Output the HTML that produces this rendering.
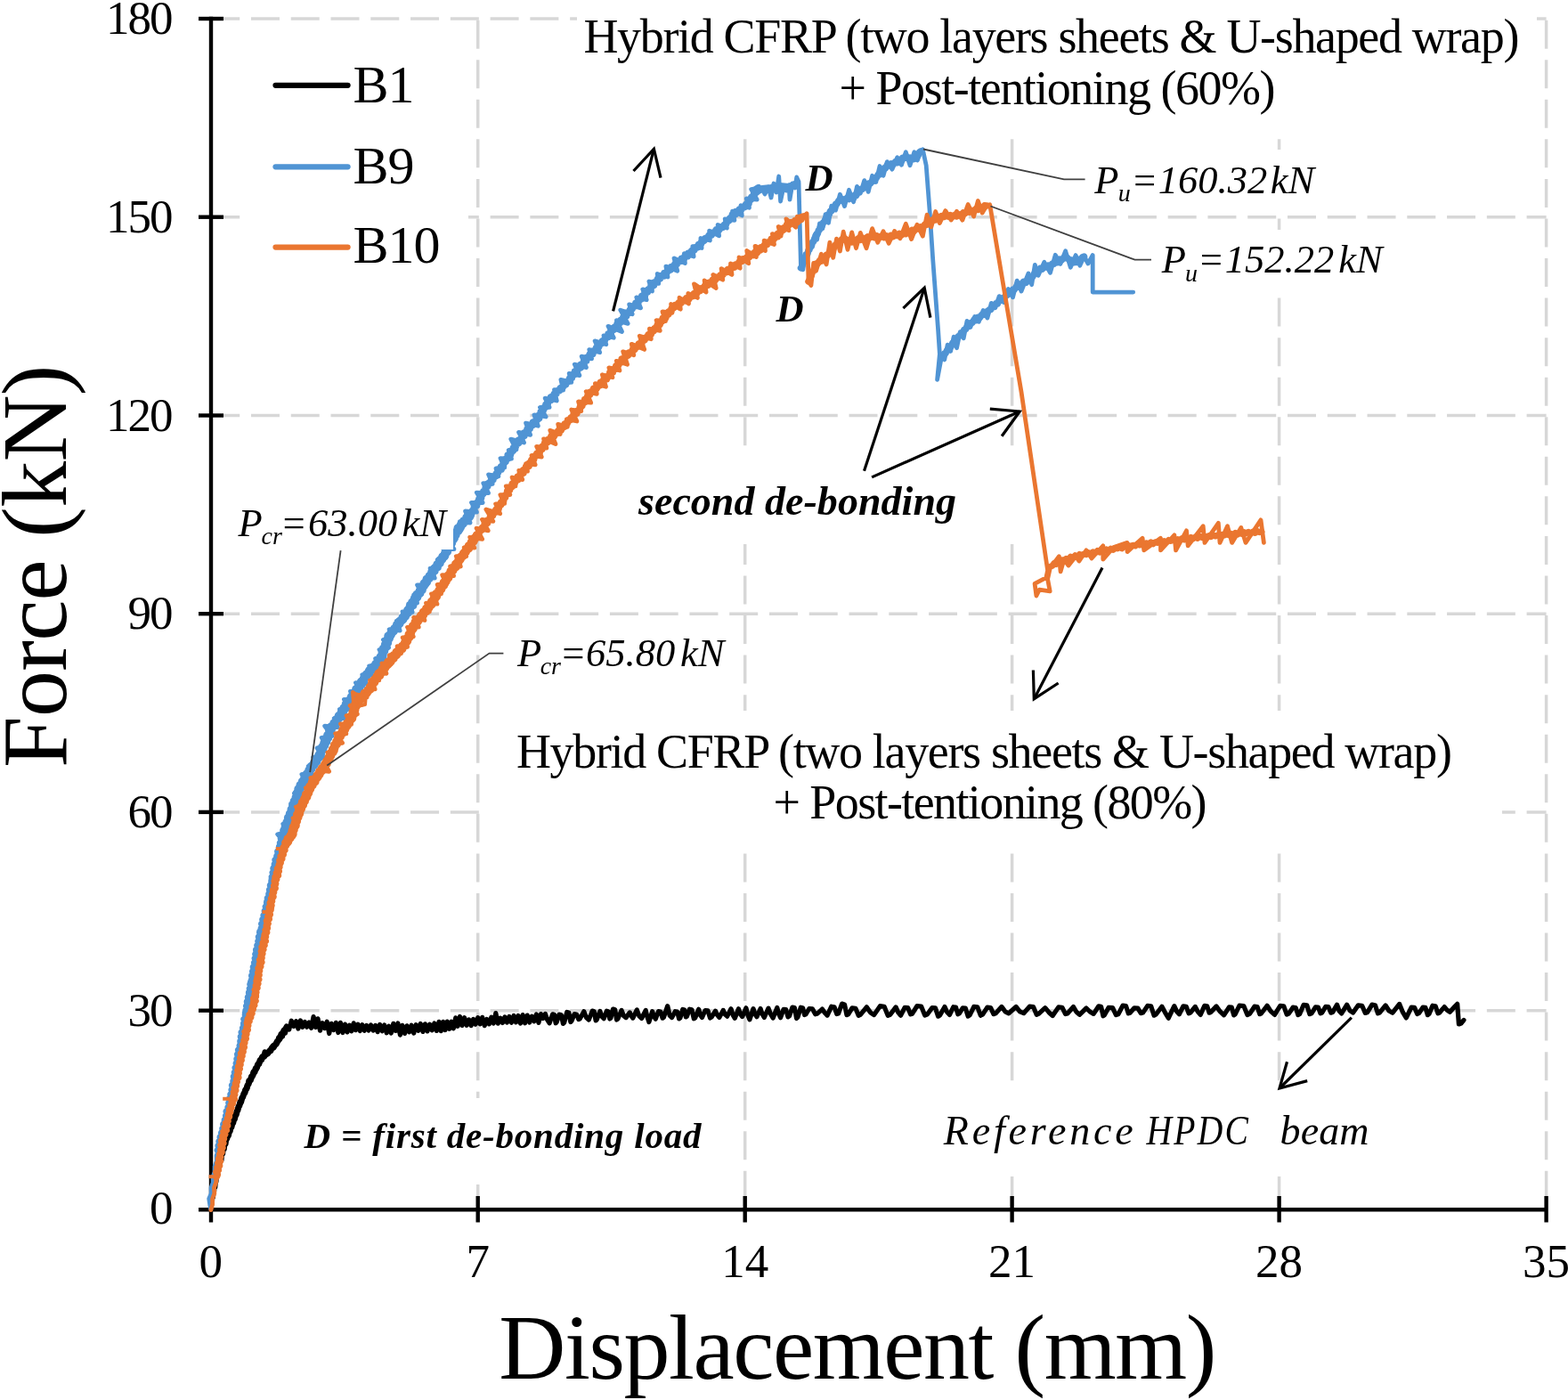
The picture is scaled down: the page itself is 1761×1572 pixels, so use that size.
<!DOCTYPE html>
<html><head><meta charset="utf-8"><title>Force vs Displacement</title>
<style>html,body{margin:0;padding:0;background:#fff;}svg{display:block;}</style>
</head><body>
<svg width="1761" height="1572" viewBox="0 0 1761 1572"><rect x="0" y="0" width="1761" height="1572" fill="#fff"/>
<line x1="237.2" y1="1134.7" x2="1736.6" y2="1134.7" stroke="#D7D7D7" stroke-width="3.5" stroke-dasharray="32 12.77"/>
<line x1="237.2" y1="911.9" x2="1736.6" y2="911.9" stroke="#D7D7D7" stroke-width="3.5" stroke-dasharray="32 12.77"/>
<line x1="237.2" y1="689.2" x2="1736.6" y2="689.2" stroke="#D7D7D7" stroke-width="3.5" stroke-dasharray="32 12.77"/>
<line x1="237.2" y1="466.5" x2="1736.6" y2="466.5" stroke="#D7D7D7" stroke-width="3.5" stroke-dasharray="32 12.77"/>
<line x1="237.2" y1="243.7" x2="1736.6" y2="243.7" stroke="#D7D7D7" stroke-width="3.5" stroke-dasharray="32 12.77"/>
<line x1="237.2" y1="21.0" x2="1736.6" y2="21.0" stroke="#D7D7D7" stroke-width="3.5" stroke-dasharray="32 12.77"/>
<line x1="536.7" y1="22.7" x2="536.7" y2="1357.4" stroke="#D7D7D7" stroke-width="3.5" stroke-dasharray="32 12.556"/>
<line x1="836.7" y1="22.7" x2="836.7" y2="1357.4" stroke="#D7D7D7" stroke-width="3.5" stroke-dasharray="32 12.556"/>
<line x1="1136.6" y1="22.7" x2="1136.6" y2="1357.4" stroke="#D7D7D7" stroke-width="3.5" stroke-dasharray="32 12.556"/>
<line x1="1436.6" y1="22.7" x2="1436.6" y2="1357.4" stroke="#D7D7D7" stroke-width="3.5" stroke-dasharray="32 12.556"/>
<line x1="1736.6" y1="22.7" x2="1736.6" y2="1357.4" stroke="#D7D7D7" stroke-width="3.5" stroke-dasharray="32 12.556"/>
<g stroke="#000" stroke-width="4.4" fill="none">
<line x1="237" y1="18.8" x2="237" y2="1372.5"/>
<line x1="223" y1="1358.2" x2="1736.8" y2="1358.2"/>
<line x1="223" y1="1134.7" x2="251" y2="1134.7"/>
<line x1="223" y1="911.9" x2="251" y2="911.9"/>
<line x1="223" y1="689.2" x2="251" y2="689.2"/>
<line x1="223" y1="466.5" x2="251" y2="466.5"/>
<line x1="223" y1="243.7" x2="251" y2="243.7"/>
<line x1="223" y1="21.0" x2="251" y2="21.0"/>
<line x1="536.7" y1="1343" x2="536.7" y2="1372.5"/>
<line x1="836.7" y1="1343" x2="836.7" y2="1372.5"/>
<line x1="1136.6" y1="1343" x2="1136.6" y2="1372.5"/>
<line x1="1436.6" y1="1343" x2="1436.6" y2="1372.5"/>
<line x1="1736.6" y1="1343" x2="1736.6" y2="1372.5"/>
</g>
<path d="M255.6,1276.0 L256.5,1274.7 L257.3,1270.7 L258.2,1270.2 L259.1,1266.1 L259.9,1265.6 L260.8,1262.0 L261.7,1261.0 L262.5,1257.5 L263.4,1256.6 L264.3,1252.4 L265.2,1251.7 L266.1,1247.9 L267.0,1246.5 L267.9,1242.7 L268.8,1241.7 L269.7,1237.7 L270.7,1237.0 L271.8,1233.0 L272.8,1231.5 L273.8,1228.4 L274.9,1227.2 L275.9,1223.5 L276.9,1222.5 L278.0,1218.7 L279.0,1217.3 L280.2,1213.7 L281.4,1212.7 L282.5,1208.7 L283.7,1207.8 L284.9,1204.1 L286.0,1203.6 L287.2,1199.7 L288.4,1198.9 L289.6,1195.2 L290.9,1194.2 L292.1,1190.5 L293.4,1190.0 L294.6,1186.7 L296.6,1186.4 L298.5,1183.3 L300.4,1183.3 L302.4,1180.5 L303.9,1179.7 L305.4,1176.4 L307.0,1176.3 L308.5,1173.4 L310.0,1172.5 L311.2,1169.4 L312.4,1168.7 L313.6,1165.3 L314.8,1164.9 L316.0,1161.1 L317.5,1160.1 L319.0,1157.0 L320.5,1155.9 L322.0,1153.0" fill="none" stroke="#000" stroke-width="7" stroke-linejoin="round" stroke-linecap="round" />
<path d="M236.5,1357.5 L237.1,1356.4 L237.7,1348.6 L238.3,1350.4 L238.8,1343.9 L239.4,1344.6 L240.0,1338.1 L240.6,1337.5 L241.2,1327.9 L241.8,1333.1 L242.4,1324.8 L242.9,1327.1 L243.5,1316.5 L244.1,1319.5 L244.7,1313.9 L245.5,1313.9 L246.4,1306.9 L247.2,1308.0 L248.1,1301.1 L248.9,1303.0 L249.7,1294.3 L250.6,1295.7 L251.4,1287.5 L252.2,1290.5 L253.1,1282.3 L253.9,1284.9 L254.8,1277.9 L255.6,1278.8 L256.7,1270.1 L257.8,1271.4 L258.9,1264.7 L260.1,1265.6 L261.2,1258.6 L262.3,1259.9 L263.4,1253.0 L264.4,1255.4 L265.5,1247.8 L266.5,1248.5 L267.6,1242.9 L268.6,1242.6 L269.7,1237.0 L270.9,1238.7 L272.0,1231.4 L273.2,1231.8 L274.4,1224.9 L275.5,1226.1 L276.7,1220.7 L277.8,1222.0 L279.0,1213.1 L280.3,1215.3 L281.7,1209.8 L283.0,1210.5 L284.4,1203.1 L285.7,1205.5 L287.1,1199.3 L288.4,1200.8 L289.9,1193.7 L291.5,1195.0 L293.1,1188.3 L294.6,1189.8 L297.2,1180.8 L299.8,1184.0 L302.4,1179.3 L304.3,1180.2 L306.2,1174.2 L308.1,1175.6 L310.0,1170.8 L311.5,1171.6 L313.0,1164.8 L314.5,1167.3 L316.0,1160.9 L317.5,1164.0 L319.0,1156.1 L320.5,1160.0 L322.0,1153.0 L324.7,1156.1 L327.3,1146.2 L330.0,1152.4 L332.5,1146.7 L334.9,1155.1 L337.4,1145.9 L339.8,1153.3 L342.3,1147.5 L344.7,1153.2 L347.2,1148.0 L349.6,1154.3 L352.1,1141.6 L354.5,1153.5 L357.0,1143.8 L359.5,1157.2 L362.1,1148.7 L364.6,1154.6 L367.2,1147.3 L369.7,1160.5 L372.2,1149.4 L374.8,1156.5 L377.3,1148.3 L379.8,1159.5 L382.4,1148.3 L384.9,1159.5 L387.5,1150.1 L390.0,1158.9 L392.4,1151.2 L394.8,1157.8 L397.2,1148.8 L399.6,1156.7 L402.0,1150.3 L404.4,1157.5 L406.8,1150.6 L409.2,1157.2 L411.6,1151.4 L414.0,1157.0 L416.5,1150.9 L419.1,1157.1 L421.6,1151.4 L424.1,1158.7 L426.6,1150.5 L429.2,1157.7 L431.7,1151.0 L434.2,1159.8 L436.8,1152.3 L439.3,1160.0 L441.8,1149.3 L444.4,1157.4 L446.9,1148.9 L449.4,1162.1 L451.9,1151.4 L454.5,1160.4 L457.0,1151.8 L459.6,1158.9 L462.1,1151.2 L464.7,1160.0 L467.2,1150.7 L469.8,1157.3 L472.3,1149.4 L474.9,1158.4 L477.4,1149.8 L480.0,1157.9 L482.6,1150.1 L485.2,1156.9 L487.8,1149.0 L490.4,1157.4 L493.0,1147.3 L495.3,1157.6 L497.7,1147.4 L500.0,1156.6 L502.3,1147.1 L504.7,1155.3 L507.0,1147.2 L509.3,1154.8 L511.7,1142.9 L514.0,1152.3 L516.5,1141.5 L519.0,1151.4 L521.6,1142.7 L524.1,1151.3 L526.6,1145.0 L529.1,1151.6 L531.6,1144.4 L534.1,1150.2 L536.7,1142.7 L539.2,1149.9 L541.7,1142.3 L544.2,1151.7 L546.7,1144.4 L549.3,1149.9 L551.8,1142.2 L554.3,1149.0 L556.8,1137.6 L559.3,1149.2 L561.9,1143.2 L564.4,1148.5 L566.9,1142.0 L569.4,1148.1 L571.9,1141.5 L574.4,1148.2 L577.0,1140.5 L579.5,1147.9 L582.0,1140.5 L584.5,1149.0 L587.1,1139.6 L589.6,1148.8 L592.2,1140.1 L594.7,1148.0 L597.3,1141.1 L599.8,1146.8 L602.4,1139.0 L604.9,1148.4 L607.5,1138.6 L610.0,1143.5 L612.4,1138.4 L614.7,1145.1 L617.1,1148.8 L620.6,1138.8 L622.5,1139.2 L624.1,1148.8 L625.2,1147.7 L627.9,1139.2 L630.3,1139.5 L632.4,1149.4 L633.7,1148.1 L636.7,1136.5 L638.9,1137.1 L640.8,1147.5 L642.0,1146.4 L645.0,1138.7 L647.6,1139.0 L649.8,1144.5 L651.2,1144.0 L655.8,1135.8 L658.5,1142.5 L661.3,1145.1 L665.2,1135.1 L667.3,1135.7 L669.1,1145.9 L670.3,1144.9 L673.9,1135.4 L676.0,1141.5 L678.2,1143.7 L681.3,1135.2 L683.2,1135.7 L684.8,1144.0 L685.9,1143.2 L688.5,1133.1 L690.7,1133.8 L692.6,1145.0 L693.9,1144.0 L698.0,1134.4 L700.5,1140.7 L703.0,1142.6 L707.3,1136.9 L709.1,1140.8 L710.8,1143.1 L715.3,1133.9 L717.9,1140.8 L720.6,1143.5 L725.2,1134.4 L727.0,1142.0 L728.9,1147.6 L732.6,1135.7 L734.4,1140.9 L736.3,1144.2 L739.5,1135.7 L741.9,1136.0 L744.1,1143.2 L745.4,1142.4 L749.7,1129.7 L752.2,1140.3 L754.6,1142.5 L758.3,1135.7 L760.7,1136.1 L762.6,1143.9 L763.9,1142.9 L766.7,1133.4 L768.7,1134.0 L770.3,1141.9 L771.4,1141.3 L774.4,1133.2 L777.0,1133.8 L779.3,1143.8 L780.8,1142.8 L784.7,1133.3 L786.6,1139.9 L788.5,1142.5 L792.0,1134.5 L795.0,1134.9 L797.5,1143.0 L799.1,1142.1 L803.5,1135.2 L805.6,1139.6 L807.8,1142.4 L812.2,1134.4 L814.4,1139.1 L816.7,1141.2 L821.0,1132.7 L823.1,1139.6 L825.3,1143.3 L829.5,1132.8 L831.6,1138.9 L833.7,1141.5 L837.9,1131.8 L839.9,1139.8 L841.9,1144.9 L846.0,1132.6 L848.0,1138.8 L850.0,1141.7 L854.1,1132.5 L856.2,1138.8 L858.3,1142.4 L863.0,1132.2 L865.6,1138.9 L868.2,1143.0 L872.8,1131.4 L874.7,1138.6 L876.6,1142.7 L880.0,1133.4 L882.7,1133.7 L885.0,1141.9 L886.5,1140.9 L889.9,1131.1 L892.4,1131.6 L894.6,1143.5 L896.0,1142.1 L899.3,1131.2 L901.6,1131.7 L903.6,1139.5 L905.0,1138.8 L908.8,1132.5 L912.5,1132.9 L915.7,1138.8 L917.7,1138.3 L923.4,1133.1 L926.3,1137.2 L929.1,1140.1 L933.8,1130.2 L937.0,1130.7 L939.8,1138.5 L941.6,1138.0 L945.6,1127.1 L948.5,1127.9 L951.0,1139.7 L952.7,1138.9 L957.0,1131.9 L960.9,1132.3 L964.2,1140.3 L966.3,1139.4 L973.3,1130.8 L977.5,1136.8 L981.6,1139.6 L988.4,1129.7 L993.1,1130.3 L997.2,1140.3 L999.8,1139.3 L1006.1,1130.9 L1008.8,1136.9 L1011.5,1140.2 L1016.2,1131.3 L1019.7,1131.7 L1022.7,1138.9 L1024.6,1138.2 L1029.9,1129.6 L1034.7,1130.2 L1038.7,1140.0 L1041.4,1139.1 L1046.9,1131.5 L1050.5,1131.9 L1053.6,1141.2 L1055.6,1140.0 L1061.0,1130.5 L1063.7,1136.5 L1066.5,1139.4 L1070.8,1130.7 L1073.5,1131.1 L1075.8,1138.8 L1077.3,1138.0 L1081.2,1131.9 L1084.4,1132.2 L1087.2,1141.1 L1089.1,1139.9 L1093.8,1130.3 L1097.8,1130.8 L1101.3,1140.2 L1103.6,1139.2 L1108.8,1131.2 L1112.6,1131.6 L1115.9,1138.7 L1118.1,1137.9 L1124.9,1130.4 L1128.9,1135.8 L1132.9,1137.8 L1141.1,1130.5 L1145.4,1135.8 L1149.7,1137.7 L1156.3,1130.2 L1160.6,1130.7 L1164.2,1139.3 L1166.5,1138.4 L1173.8,1131.7 L1178.0,1136.7 L1182.2,1140.5 L1188.8,1130.9 L1193.0,1131.3 L1196.6,1138.6 L1198.9,1137.9 L1205.5,1130.5 L1208.9,1136.3 L1212.4,1139.3 L1220.0,1132.0 L1224.1,1136.0 L1228.2,1138.4 L1233.9,1129.8 L1236.6,1130.3 L1239.0,1140.8 L1240.5,1139.6 L1245.0,1131.4 L1249.6,1131.7 L1253.4,1139.6 L1255.9,1138.7 L1261.1,1129.0 L1264.5,1129.5 L1267.3,1137.9 L1269.1,1137.3 L1273.9,1131.8 L1277.9,1132.1 L1281.3,1137.7 L1283.6,1137.1 L1288.8,1129.4 L1292.7,1129.9 L1296.1,1140.2 L1298.3,1139.0 L1304.9,1130.2 L1308.6,1137.1 L1312.3,1143.2 L1318.8,1129.6 L1321.6,1135.7 L1324.4,1138.8 L1329.0,1129.8 L1332.3,1130.3 L1335.1,1137.9 L1336.9,1137.2 L1342.3,1130.4 L1345.2,1135.8 L1348.2,1139.4 L1352.8,1129.3 L1355.7,1129.8 L1358.1,1137.2 L1359.7,1136.6 L1366.1,1129.9 L1370.4,1135.9 L1374.6,1139.8 L1380.4,1130.9 L1383.3,1131.2 L1385.7,1139.9 L1387.2,1138.8 L1392.0,1129.2 L1396.8,1129.6 L1400.9,1139.5 L1403.5,1138.4 L1408.9,1130.2 L1412.1,1130.6 L1414.8,1138.7 L1416.6,1137.8 L1423.1,1129.2 L1427.3,1135.6 L1431.5,1139.4 L1437.8,1129.4 L1441.8,1129.9 L1445.2,1139.1 L1447.4,1138.1 L1452.1,1131.2 L1455.2,1131.5 L1457.9,1139.6 L1459.7,1138.5 L1464.0,1128.4 L1467.8,1128.9 L1470.9,1138.7 L1473.0,1137.8 L1477.4,1130.8 L1480.5,1131.1 L1483.0,1137.9 L1484.7,1137.1 L1488.8,1130.4 L1492.0,1130.7 L1494.8,1137.2 L1496.6,1136.6 L1501.6,1128.2 L1504.1,1135.2 L1506.7,1137.9 L1512.7,1128.2 L1516.2,1134.9 L1519.6,1137.1 L1525.4,1128.8 L1529.7,1129.3 L1533.3,1137.4 L1535.7,1136.7 L1540.9,1128.1 L1544.4,1128.7 L1547.5,1137.9 L1549.4,1137.1 L1556.1,1128.9 L1560.0,1135.0 L1564.0,1137.2 L1571.7,1127.4 L1575.5,1136.7 L1579.3,1142.9 L1585.1,1131.2 L1588.7,1131.4 L1591.7,1138.5 L1593.7,1137.6 L1598.0,1131.1 L1600.9,1131.4 L1603.4,1139.7 L1605.0,1138.5 L1608.9,1129.2 L1612.2,1129.7 L1614.9,1137.8 L1616.7,1137.0 L1622.2,1130.6 L1625.3,1134.3 L1628.4,1136.3 L1634.0,1130.0 L1636.7,1127.3 L1638.4,1150.0 L1641.0,1149.0 L1644.0,1145.4" fill="none" stroke="#000" stroke-width="5.2" stroke-linejoin="round" stroke-linecap="round" />
<path d="M244.7,1291.5 L246.3,1289.3 L245.4,1286.6 L246.9,1284.4 L246.3,1281.7 L248.2,1279.6 L247.5,1276.9 L249.3,1274.8 L249.0,1272.1 L250.9,1270.1 L250.2,1267.3 L251.7,1265.2 L251.1,1262.5 L253.0,1260.4 L252.6,1257.7 L254.4,1255.6 L253.9,1252.9 L256.0,1250.9 L254.5,1248.0 L256.5,1245.9 L256.3,1243.3 L258.1,1241.2 L257.2,1238.4 L259.3,1236.4 L258.0,1233.5 L260.7,1231.7 L259.3,1228.8 L261.5,1226.7 L260.4,1223.9 L262.6,1221.7 L260.9,1218.8 L263.2,1216.7 L262.3,1214.0 L263.8,1211.7 L262.7,1208.9 L264.6,1206.7 L263.7,1204.0 L265.7,1201.7 L264.5,1199.0 L267.1,1196.9 L265.6,1194.0 L267.6,1191.8 L266.3,1189.0 L268.1,1186.8 L267.0,1184.0 L269.3,1181.8 L267.9,1179.0 L270.0,1176.9 L269.5,1174.2 L270.7,1171.8 L270.2,1169.2 L271.9,1166.9 L270.7,1164.2 L272.9,1162.0 L271.5,1159.2 L273.9,1157.1 L272.9,1154.4 L274.4,1152.1 L274.0,1149.5 L275.3,1147.2 L274.2,1144.4 L276.6,1142.3 L275.7,1139.6 L277.3,1137.4 L276.3,1134.6 L278.5,1132.5 L277.0,1129.7 L279.0,1127.5 L277.8,1124.7 L280.0,1122.6 L278.8,1119.8 L281.2,1117.7 L279.9,1115.0 L282.1,1112.9 L280.7,1110.2 L283.0,1108.1 L281.3,1105.3 L283.7,1103.2 L282.7,1100.5 L284.0,1098.3 L283.0,1095.6 L285.5,1093.5 L284.0,1090.8 L285.7,1088.6 L284.7,1085.9 L287.0,1083.8 L285.9,1081.1 L288.1,1079.0 L286.6,1076.2 L288.9,1074.2 L287.2,1071.4 L289.3,1069.2 L288.0,1066.5 L290.4,1064.4 L289.2,1061.7 L291.3,1059.6 L290.3,1056.9 L292.2,1054.8 L290.8,1051.9 L293.4,1050.0 L292.0,1047.1 L294.2,1045.1 L293.6,1042.4 L295.7,1040.4 L294.1,1037.5 L296.4,1035.4 L295.2,1032.6 L297.5,1030.6 L296.4,1027.8 L298.5,1025.8 L297.6,1023.0 L299.8,1021.0 L298.6,1018.2 L300.6,1016.1 L299.9,1013.4 L301.6,1011.2 L300.7,1008.5 L302.8,1006.4 L302.2,1003.8 L304.2,1001.7 L302.9,999.0 L304.7,996.9 L303.8,994.2 L305.6,992.1 L305.2,989.6 L306.7,987.4 L305.6,984.7 L308.0,982.7 L306.5,979.9 L308.7,977.9 L307.3,975.1 L309.5,973.1 L308.6,970.4 L310.2,968.3 L309.3,965.5 L312.1,963.7 L311.3,961.0 L312.9,958.8 L312.1,956.1 L314.6,954.2 L313.8,951.4 L316.0,949.4 L314.8,946.6 L316.8,944.6 L315.7,941.7 L318.4,939.9 L317.3,937.1 L319.5,935.1 L318.6,932.3 L321.0,930.5 L320.0,927.4 L322.8,925.8 L322.5,923.0 L324.7,921.2 L324.1,918.3 L326.6,916.6 L325.8,913.6 L328.4,911.9 L327.4,908.9 L330.0,907.2 L328.8,904.3 L331.2,902.5 L331.0,899.9 L332.6,897.9 L332.1,895.2 L334.4,893.4 L333.7,890.6 L335.9,888.8 L335.3,886.0 L337.5,884.4 L337.7,881.8 L340.4,880.5 L340.0,877.5 L342.5,876.2 L341.9,873.1 L345.0,872.0 L344.2,868.8 L347.1,867.8 L347.2,864.8 L349.8,863.5 L350.0,860.5 L352.7,859.3 L352.8,856.3 L355.0,854.7 L355.4,851.9 L358.5,850.9 L358.3,847.8 L360.8,846.3 L360.5,843.5 L362.8,841.8 L362.1,838.8 L364.3,837.1 L363.8,834.2 L366.8,832.8 L366.3,829.9 L368.8,828.4 L367.8,825.2 L370.7,823.8 L369.6,820.7 L372.4,819.3 L372.3,816.3 L374.9,815.0 L375.1,812.1 L377.5,810.7 L377.7,807.8 L380.5,806.6 L380.4,803.5 L383.5,802.5 L383.2,799.3 L385.9,798.0 L386.3,795.3 L389.0,794.0 L388.6,790.7 L391.7,789.7 L391.7,786.6 L394.2,785.2 L394.9,782.6 L397.0,780.9 L397.7,778.4 L399.9,776.8 L400.2,774.0 L403.2,772.9 L403.0,769.7 L406.0,768.6 L406.0,765.5 L408.3,764.0 L408.6,761.2 L411.4,759.9 L411.8,757.2 L414.4,756.0 L414.6,752.7 L417.9,752.3 L418.2,749.0 L421.2,748.3 L422.4,745.9 L425.2,745.0 L425.8,742.2 L428.2,740.6 L427.0,737.4 L429.6,735.8 L429.2,732.9 L431.6,731.2 L430.5,728.1 L433.1,726.4 L432.5,723.5 L435.3,721.9 L434.3,718.8 L436.8,717.1 L436.7,714.3 L439.5,713.1 L439.9,710.1 L442.2,708.7 L442.9,705.9 L445.8,704.8 L445.9,701.6 L448.6,700.4 L448.9,697.3 L452.1,696.6 L452.0,693.2 L454.9,692.1 L455.3,689.2 L457.8,687.8 L457.6,684.8 L460.9,683.9 L460.7,680.7 L463.1,679.3 L463.6,676.6 L465.7,674.9 L466.0,672.2 L468.4,670.7 L468.1,667.6 L471.4,666.7 L470.8,663.3 L473.4,661.9 L473.6,659.1 L476.3,657.8 L476.1,654.7 L478.9,653.4 L479.5,650.7 L481.9,649.3 L482.1,646.3 L484.8,645.0 L485.4,642.3 L487.8,640.8 L488.3,638.0 L490.8,636.6 L491.1,633.7 L494.1,632.5 L493.9,629.3 L496.9,628.2 L496.8,625.0 L499.9,624.0 L499.6,620.7 L502.6,619.5 L502.1,616.2 L505.0,614.8 L504.5,611.6 L507.2,610.0 L506.7,606.9 L509.2,605.2 L509.4,602.4 L511.6,600.6 L512.0,597.8 L514.0,595.9 L514.4,593.2 L516.8,591.7 L517.8,589.3 L520.3,588.1 L521.1,585.4 L523.6,584.3 L524.2,581.3 L527.1,580.5 L527.5,577.6 L529.8,576.1 L530.4,573.6 L532.4,571.8 L532.6,569.0 L535.4,567.7 L535.3,564.8 L537.4,563.1 L538.0,560.5 L540.4,559.0 L540.5,556.2 L542.6,554.5 L543.0,551.8 L545.3,550.2 L545.4,547.4 L547.7,545.9 L547.9,543.0 L550.7,542.1 L551.4,539.7 L553.8,538.4 L553.8,535.4 L556.7,534.6 L557.3,532.1 L559.4,530.6 L559.7,527.9 L562.9,527.0 L562.7,523.9 L565.4,522.7 L565.5,519.8 L567.9,518.4 L568.0,515.5 L570.9,514.4 L570.4,511.1 L573.5,510.1 L573.6,507.2 L576.4,506.1 L576.5,502.9 L579.1,501.6 L579.6,498.7 L582.4,497.6 L582.4,494.4 L585.5,493.4 L585.9,490.4 L588.8,489.3 L588.9,486.2 L592.0,485.3 L592.1,482.1 L595.1,481.3 L595.4,478.2 L598.3,477.4 L598.6,474.3 L601.8,473.7 L602.5,470.9 L605.4,469.9 L604.9,466.6 L607.9,465.6 L607.4,462.4 L610.0,461.1 L610.2,458.2 L612.9,457.0 L613.1,454.3 L615.3,452.7 L615.1,449.5 L618.5,449.3 L618.7,445.9 L621.7,445.5 L622.3,442.6 L624.9,441.8 L625.9,439.3 L628.4,438.4 L629.3,435.8 L631.9,435.0 L632.9,432.4 L635.5,431.6 L636.4,429.0 L639.1,428.0 L639.6,425.1 L642.3,424.2 L642.7,421.1 L645.5,420.2 L645.6,417.0 L648.4,416.1 L649.0,413.3 L652.2,412.7 L652.3,409.5 L655.5,409.0 L655.7,405.8 L658.6,405.0 L658.8,401.7 L661.7,400.9 L662.3,397.9 L665.6,397.4 L665.9,394.3 L668.9,393.4 L669.6,390.6 L672.4,389.7 L673.2,386.9 L675.6,385.6 L676.5,382.9 L679.2,381.9 L679.8,379.0 L683.0,378.3 L683.1,375.0 L686.0,374.0 L686.3,370.9 L689.4,370.1 L690.2,367.4 L692.7,366.2 L693.3,363.2 L696.4,362.5 L696.9,359.6 L699.6,358.4 L700.2,355.5 L703.4,354.9 L703.5,351.5 L706.9,351.2 L707.4,348.1 L709.9,346.9 L710.8,344.3 L713.8,343.4 L714.0,340.2 L716.9,339.3 L717.5,336.4 L720.6,335.7 L720.9,332.5 L724.2,332.0 L724.3,328.6 L727.3,327.8 L728.1,325.1 L730.9,324.1 L731.2,321.0 L734.4,320.3 L734.7,317.1 L737.9,316.6 L738.5,313.5 L741.4,312.9 L742.3,310.1 L745.5,309.8 L746.0,306.6 L749.0,306.1 L750.2,303.6 L753.0,302.9 L753.7,299.8 L756.8,299.5 L757.8,296.9 L760.4,296.2 L761.7,293.9 L764.2,293.1 L765.3,290.5 L768.3,290.3 L769.2,287.6 L772.2,287.5 L772.9,284.4 L775.7,283.9 L777.0,281.5 L779.7,280.7 L780.8,278.0 L783.8,277.5 L784.6,274.6 L787.4,273.8 L788.2,270.9 L790.9,270.1 L792.1,267.6 L795.0,267.1 L796.2,264.4 L799.0,263.8 L800.5,261.4 L803.3,260.9 L804.4,258.0 L807.7,258.2 L809.1,255.6 L811.9,255.1 L813.4,252.7 L815.5,251.4 L816.3,248.7 L818.8,247.6 L819.8,245.1 L822.5,244.1 L822.6,240.9 L825.8,240.6 L826.4,237.7 L829.4,237.8 L830.4,235.1 L833.0,234.7 L834.3,232.5 L837.0,232.2 L837.7,229.6 L840.8,228.7 L840.6,225.4 L843.2,224.1 L844.0,221.4 L846.7,220.1 L846.8,217.0 L849.7,215.9 L849.4,212.5 L851.8,211.0" fill="none" stroke="#5094D4" stroke-width="8" stroke-linejoin="round" stroke-linecap="round" />
<path d="M319.3,932.5 L320.7,930.4 L320.7,927.7 L322.6,925.7 L322.4,923.0 L324.4,921.1 L323.9,918.2 L326.4,916.5 L325.8,913.6 L328.1,911.8 L327.5,908.9 L329.7,907.1 L329.1,904.4 L331.0,902.4 L330.6,899.8 L332.9,898.0 L332.6,895.3 L334.0,893.3 L333.6,890.6 L335.8,888.8 L335.3,886.0 L337.7,884.5 L337.4,881.6 L340.0,880.2 L339.8,877.4 L342.2,875.9 L342.2,873.2 L344.6,871.8 L344.7,869.1 L346.8,867.6 L347.3,864.9 L349.5,863.3 L349.8,860.4 L352.4,859.1 L353.0,856.4 L355.4,855.0 L355.5,851.9 L358.2,850.7 L358.3,847.8 L360.2,846.0 L360.4,843.4 L362.4,841.6 L362.1,838.8 L364.3,837.1 L364.2,834.4 L366.4,832.7 L365.9,829.8 L368.4,828.2 L368.2,825.5 L370.1,823.6 L370.2,820.9 L372.0,819.1 L372.1,816.2 L374.9,815.0 L375.2,812.2 L377.7,810.8 L378.0,807.9 L380.5,806.6 L380.7,803.7 L383.1,802.2 L383.7,799.6 L385.8,797.9 L386.2,795.2 L388.8,793.8 L388.7,790.8 L391.6,789.6 L392.0,786.8 L394.5,785.5 L394.7,782.5 L397.1,781.0 L397.4,778.2 L400.3,777.0 L400.2,773.9 L403.1,772.8 L403.1,769.8 L405.9,768.5 L405.9,765.5 L408.3,764.0 L409.0,761.4 L411.2,759.8 L411.7,757.1 L414.2,755.8 L414.9,753.0 L417.8,752.2 L418.6,749.3 L421.2,748.3 L422.1,745.6 L425.0,744.8 L425.7,742.1 L428.1,740.5 L427.5,737.6 L429.7,735.8 L429.5,733.0 L431.3,731.0 L430.8,728.2 L433.4,726.5 L432.9,723.6 L435.2,721.8 L434.7,719.0 L436.8,717.1 L436.3,714.1 L438.9,712.7 L439.7,710.0 L442.0,708.5 L443.1,706.0 L445.6,704.7 L445.9,701.6 L448.6,700.4 L449.0,697.5 L451.7,696.3 L452.3,693.4 L455.0,692.2 L455.4,689.3 L458.0,688.0 L458.1,685.1 L460.4,683.5 L460.6,680.7 L463.4,679.5 L463.1,676.3 L465.6,674.9 L465.7,672.0 L468.4,670.7 L468.4,667.7 L471.2,666.5 L471.5,663.7 L473.9,662.3 L474.0,659.4 L476.1,657.7 L476.6,655.0 L479.2,653.7 L479.3,650.6 L481.9,649.3 L482.6,646.6 L484.9,645.1 L485.2,642.1 L487.9,640.8 L488.3,638.0 L490.7,636.5 L491.3,633.8 L493.8,632.3 L494.0,629.3 L496.4,627.8 L497.2,625.3 L499.4,623.6 L500.1,621.0 L502.2,619.2 L502.4,616.4 L504.8,614.7 L504.8,611.7 L507.1,610.0 L507.2,607.1 L509.4,605.3 L509.2,602.3 L511.7,600.6 L511.9,597.8 L514.4,596.1 L514.5,593.2 L517.1,592.1 L517.7,589.2 L520.1,587.9 L520.8,585.1 L523.9,584.5 L524.2,581.3 L527.1,580.5 L528.2,578.1" fill="none" stroke="#5094D4" stroke-width="10" stroke-linejoin="round" stroke-linecap="round" />
<path d="M899.5,300.8 L900.6,299.5 L901.6,295.0 L902.7,294.4 L903.7,291.1 L904.8,290.0 L905.8,286.3 L906.9,285.1 L907.9,281.1 L909.0,280.3 L910.1,276.3 L911.3,276.3 L912.5,271.9 L913.6,271.3 L914.8,267.9 L915.9,266.7 L917.0,262.7 L918.2,262.6 L919.4,258.4 L920.5,258.0 L921.8,253.6 L923.2,253.8 L924.5,249.9 L925.8,249.2 L927.1,245.7 L928.5,245.2 L929.8,241.2 L931.1,240.9 L932.5,237.1 L933.8,237.0 L935.4,233.3 L937.0,232.4 L938.6,229.2 L940.2,228.7 L941.8,225.4 L943.4,225.5 L945.9,223.5 L948.5,224.3 L951.0,222.4 L953.5,223.6 L956.1,221.9 L958.6,222.6 L960.1,219.0 L961.7,219.5 L963.2,216.2 L964.8,215.8 L966.3,212.6 L968.5,212.5 L970.7,209.6 L973.0,209.5 L975.2,205.9 L977.4,206.3 L979.6,203.4 L981.3,203.3 L982.9,199.6 L984.6,199.4 L986.3,195.9 L988.0,195.9 L989.6,192.3 L991.3,191.9 L993.0,188.7 L994.6,188.9 L996.3,185.3 L998.6,186.0 L1000.9,183.8 L1003.1,184.7 L1005.4,181.9 L1007.7,182.8 L1009.6,180.4 L1011.5,180.7 L1013.5,177.3 L1015.4,177.7 L1017.3,175.1 L1019.7,177.7 L1022.0,177.0 L1024.4,178.9 L1026.8,178.5 L1028.2,177.6 L1029.7,174.2 L1031.1,174.5 L1032.6,170.9 L1034.0,170.0" fill="none" stroke="#5094D4" stroke-width="7.5" stroke-linejoin="round" stroke-linecap="round" />
<path d="M1057.3,401.5 L1058.9,400.1 L1060.4,397.2 L1062.0,396.7 L1063.6,393.2 L1065.1,393.1 L1066.7,389.4 L1068.2,389.2 L1069.8,385.2 L1071.4,384.9 L1072.9,382.0 L1074.5,381.1 L1076.2,377.8 L1077.9,377.1 L1079.6,374.3 L1081.3,373.4 L1083.0,370.0 L1084.7,369.5 L1086.4,366.2 L1088.1,366.3 L1089.8,362.8 L1091.9,362.4 L1094.0,359.1 L1096.2,359.8 L1098.3,356.3 L1100.4,356.7 L1102.5,353.4 L1104.7,353.5 L1106.8,350.2 L1108.9,350.4 L1110.8,347.9 L1112.7,347.6 L1114.6,344.3 L1116.5,344.1 L1118.4,340.8 L1120.3,341.1 L1122.2,337.7 L1124.1,337.3 L1126.0,334.6 L1127.9,335.0 L1129.8,331.4 L1131.8,331.2 L1133.7,328.5 L1135.6,328.5 L1137.5,324.9 L1139.4,325.0 L1141.3,321.9 L1143.2,322.2 L1145.1,319.2 L1147.0,319.0 L1149.7,316.2 L1152.3,317.3 L1155.0,315.0 L1156.6,314.7 L1158.1,311.2 L1159.7,311.0 L1161.3,307.6 L1162.9,307.5 L1164.4,304.2 L1166.0,304.0 L1168.2,301.4 L1170.5,302.1 L1172.8,299.6 L1175.0,300.1 L1177.2,298.1 L1179.5,298.9 L1181.6,296.2 L1183.8,296.2 L1185.9,293.9 L1188.0,294.6 L1190.2,291.2 L1192.3,292.2 L1194.5,289.6 L1196.6,289.7 L1198.9,289.8 L1201.2,291.9 L1203.5,292.0 L1205.8,294.8 L1208.1,294.2 L1210.0,294.4 L1211.9,291.3 L1213.8,291.3 L1215.7,288.7 L1217.6,288.0" fill="none" stroke="#5094D4" stroke-width="7.5" stroke-linejoin="round" stroke-linecap="round" />
<path d="M848.0,216.0 L856.0,212.0 L866.0,211.0 L876.0,209.0 L886.0,210.0 L895.0,206.0" fill="none" stroke="#5094D4" stroke-width="8" stroke-linejoin="round" stroke-linecap="round" />
<path d="M236.5,1357.5 L235.6,1351.8 L234.7,1346.0 L237.2,1340.1 L237.1,1333.8 L239.1,1327.9 L239.1,1321.7 L241.0,1315.8 L241.1,1309.6 L243.3,1303.7 L243.1,1297.5 L245.3,1291.6 L245.7,1285.7 L247.9,1280.2 L248.2,1274.3 L251.4,1269.0 L251.3,1263.0 L253.9,1257.6 L254.2,1251.6 L256.5,1246.2 L256.9,1240.2 L259.6,1234.9 L259.7,1228.9 L261.8,1223.4 L261.9,1217.6 L264.0,1212.2 L263.8,1206.3 L266.0,1200.9 L265.7,1195.0 L267.6,1189.5 L267.7,1183.7 L269.6,1178.2 L269.8,1172.4 L272.0,1166.9 L271.6,1160.8 L273.9,1155.2 L272.6,1148.9 L277.6,1143.8 L274.2,1137.1 L278.8,1131.9 L276.3,1125.4 L282.2,1120.4 L278.5,1113.9 L282.9,1108.7 L280.4,1102.4 L284.9,1097.3 L282.9,1091.1 L287.9,1086.0 L285.6,1079.7 L289.5,1074.5 L286.9,1068.1 L292.8,1063.3 L289.0,1056.7 L293.7,1051.8 L290.8,1045.2 L295.9,1040.4 L294.6,1034.2 L298.7,1029.2 L297.0,1022.9 L301.9,1018.1 L298.8,1011.4 L303.9,1006.7 L302.0,999.7 L306.3,993.9 L304.0,986.9 L308.4,981.1 L306.4,974.1 L312.0,968.7 L309.8,961.8 L314.7,956.8 L312.6,949.8 L318.4,945.0 L311.7,936.8 L323.5,933.9 L317.8,925.2 L326.7,922.0 L324.0,914.2 L332.4,910.7 L326.7,902.3 L337.7,899.6 L330.5,890.8 L338.2,887.2 L335.9,880.1 L345.2,878.9 L338.9,869.4 L350.7,869.9 L346.2,860.3 L355.2,859.4 L351.7,850.2 L363.0,850.3 L356.1,839.9 L366.7,837.6 L361.2,828.3 L373.2,826.5 L364.7,815.2 L379.1,816.5 L375.2,806.7 L386.3,806.7 L381.4,796.3 L392.6,796.4 L386.4,785.3 L397.6,786.0 L393.5,776.3 L404.8,777.0 L399.5,766.6 L411.2,767.5 L406.8,757.6 L416.9,758.0 L414.6,747.8 L425.4,750.1 L421.6,739.5 L432.0,738.3 L426.0,729.5 L436.6,727.2 L430.4,718.4 L439.8,716.1 L437.1,706.7 L449.2,708.1 L445.3,697.3 L454.8,696.6 L452.0,686.9 L463.2,687.3 L458.8,677.9 L468.6,677.1 L464.7,668.0 L473.9,666.9 L468.6,656.9 L479.5,656.9 L477.7,648.7 L488.3,649.1 L483.1,638.2 L493.3,638.3 L491.2,628.6 L500.8,626.6 L497.9,616.7 L510.0,616.7 L503.4,606.9 L512.4,605.1 L508.7,596.7 L518.0,595.6 L516.3,585.7 L528.1,587.0 L522.6,574.0 L535.5,575.1 L529.5,564.3 L542.2,564.5 L535.3,553.1 L548.6,553.6 L542.8,542.6 L553.2,543.3 L548.6,532.9 L559.9,534.8 L557.0,526.0 L566.7,525.0 L562.0,514.6 L574.5,515.2 L571.2,505.5 L580.0,504.8 L573.8,493.1 L588.6,497.0 L582.6,485.4 L595.7,488.3 L590.6,475.1 L604.4,478.2 L599.9,465.9 L613.2,468.0 L606.5,457.5 L617.1,457.4 L612.2,447.2 L625.3,450.0 L622.5,437.7 L632.6,438.2 L629.9,426.3 L641.8,429.2 L639.2,419.3 L650.9,421.6 L645.3,409.1 L658.5,412.7 L653.2,400.2 L664.6,402.8 L661.8,392.6 L673.7,395.7 L668.1,382.9 L680.8,386.8 L678.0,376.9 L689.3,379.2 L683.0,366.3 L698.5,372.4 L692.5,359.7 L705.2,363.4 L696.8,348.2 L710.2,352.7 L706.7,341.9 L719.6,345.9 L714.8,333.9 L726.2,336.6 L721.8,324.9 L732.5,327.0 L728.9,316.0 L739.7,318.4 L738.2,307.5 L750.0,311.0 L747.9,299.1 L760.8,304.2 L757.0,290.0 L769.4,295.6 L768.4,284.6 L779.1,288.0 L777.8,276.7 L788.1,278.5 L786.9,267.5 L797.4,270.0 L796.6,259.2 L807.6,264.8 L806.1,252.5 L816.4,256.1 L814.2,245.8 L824.9,247.3 L822.6,237.1 L833.3,241.9 L832.0,230.7 L841.5,233.2 L838.3,223.0 L850.2,224.1 L843.7,212.5 L851.8,211.0 L856.0,212.0 L859.0,218.0 L863.2,210.0 L866.0,222.0 L869.0,206.0 L872.0,216.0 L874.7,198.0 L876.6,226.0 L880.0,210.0 L883.0,214.0 L886.1,208.0 L887.0,224.0 L890.0,206.0 L893.0,211.0 L894.7,199.0 L897.0,204.0 L899.5,300.8 L901.9,302.8 L904.2,284.8 L906.6,291.9 L909.0,274.2 L911.9,277.7 L914.8,263.9 L917.6,269.1 L920.5,250.8 L923.8,256.7 L927.1,240.6 L930.5,250.3 L933.8,231.2 L938.6,236.0 L943.4,218.2 L948.5,231.6 L953.5,213.3 L958.6,226.7 L962.5,209.4 L966.3,217.1 L970.7,202.6 L975.2,215.4 L979.6,197.3 L983.8,204.4 L988.0,186.5 L992.1,197.2 L996.3,181.6 L1002.0,190.1 L1007.7,176.8 L1012.5,185.2 L1017.3,170.8 L1022.0,185.8 L1026.8,170.7 L1030.4,179.9 L1034.0,170.0 L1036.3,167.7 L1040.2,185.8 L1044.0,235.4 L1047.8,292.7 L1053.5,369.0 L1055.4,397.6 L1052.6,426.3 L1057.3,401.5 L1060.7,403.9 L1064.2,387.1 L1067.6,394.4 L1071.1,378.2 L1074.5,390.7 L1078.3,372.7 L1082.2,379.8 L1086.0,360.4 L1089.8,367.5 L1094.6,355.6 L1099.3,361.3 L1104.1,348.5 L1108.9,357.1 L1113.3,340.4 L1117.8,345.7 L1122.2,332.6 L1127.3,339.5 L1132.4,324.4 L1137.5,333.8 L1142.2,315.2 L1147.0,327.0 L1155.0,306.9 L1158.7,319.7 L1162.3,297.3 L1166.0,309.4 L1172.8,294.3 L1179.5,306.3 L1185.2,286.3 L1190.9,296.4 L1196.6,281.8 L1202.3,300.2 L1208.1,286.6 L1212.8,298.2 L1217.6,288.0 L1222.0,296.0 L1227.2,286.5 L1227.2,328.0 L1272.7,328.1" fill="none" stroke="#5094D4" stroke-width="4.8" stroke-linejoin="round" stroke-linecap="round" />
<path d="M243.2,1321.2 L244.1,1318.8 L243.0,1316.0 L245.1,1313.8 L244.1,1311.0 L246.3,1308.8 L245.1,1306.0 L247.2,1303.8 L245.9,1301.0 L247.5,1298.7 L247.0,1296.0 L248.8,1293.7 L248.0,1291.0 L249.7,1288.7 L248.2,1285.9 L250.6,1283.7 L249.0,1280.8 L251.2,1278.6 L250.2,1275.8 L252.5,1273.7 L251.2,1270.8 L254.1,1268.9 L252.6,1265.8 L255.3,1263.9 L253.7,1260.8 L255.9,1258.7 L255.7,1256.0 L257.2,1253.8 L256.9,1251.0 L258.4,1248.8 L257.7,1246.0 L259.8,1243.8 L259.3,1241.1 L261.2,1238.9 L260.4,1236.1 L263.1,1234.1 L261.8,1231.3 L263.4,1229.1 L262.6,1226.4 L264.5,1224.3 L263.4,1221.6 L265.1,1219.4 L264.6,1216.8 L266.0,1214.6 L265.7,1212.0 L267.6,1209.9 L266.5,1207.1 L268.0,1204.9 L267.1,1202.2 L269.0,1200.1 L267.8,1197.4 L269.8,1195.3 L269.1,1192.6 L270.9,1190.5 L270.0,1187.8 L271.8,1185.6 L270.8,1182.9 L272.9,1180.8 L272.2,1178.1 L274.0,1175.9 L272.8,1173.1 L274.6,1171.0 L274.2,1168.4 L276.0,1166.2 L275.2,1163.5 L276.6,1161.2 L275.4,1158.5 L278.0,1156.4 L277.2,1153.7 L278.5,1151.5 L277.6,1148.8 L279.8,1146.7 L278.7,1143.9 L281.4,1142.3 L280.3,1139.4 L282.8,1137.8 L282.4,1135.1 L284.0,1133.2 L283.4,1130.5 L285.4,1128.6 L284.7,1126.0 L286.8,1123.8 L285.1,1121.1 L287.1,1119.0 L286.3,1116.4 L287.6,1114.1 L286.6,1111.5 L288.7,1109.3 L287.6,1106.7 L289.6,1104.5 L288.3,1101.9 L290.5,1099.7 L289.2,1097.1 L290.8,1094.9 L290.0,1092.3 L291.3,1090.0 L290.3,1087.4 L292.5,1085.2 L291.6,1082.6 L293.6,1080.5 L291.9,1077.8 L293.8,1075.6 L293.3,1073.1 L294.6,1070.8 L293.6,1068.2 L295.6,1066.1 L294.3,1063.4 L296.8,1061.4 L295.5,1058.7 L298.0,1056.7 L296.5,1053.9 L298.2,1051.8 L297.5,1049.2 L299.4,1047.0 L298.3,1044.4 L300.1,1042.1 L299.5,1039.3 L300.9,1037.0 L299.7,1034.1 L301.9,1031.9 L301.0,1029.1 L303.0,1026.8 L301.6,1023.9 L303.8,1021.7 L302.5,1018.8 L304.7,1016.7 L303.5,1013.9 L305.3,1011.8 L304.7,1009.1 L306.7,1007.0 L305.9,1004.3 L307.3,1002.0 L306.8,999.4 L308.9,997.3 L307.9,994.5 L309.4,992.3 L308.4,989.6 L310.4,987.4 L309.4,984.7 L312.1,982.9 L310.6,980.1 L313.0,978.2 L311.7,975.4 L313.7,973.5 L313.5,971.0 L314.9,968.9 L314.2,966.2 L316.5,964.3 L315.4,961.6 L318.0,959.6 L316.9,956.4 L319.7,954.5 L318.6,951.3 L321.3,949.4 L320.5,946.2 L323.4,945.0 L323.3,941.9 L326.1,940.8 L326.2,938.0 L328.4,936.3 L328.0,933.6 L330.0,931.6 L329.2,928.7 L331.7,926.9 L331.2,924.2 L333.4,922.3 L332.3,919.3 L334.8,917.5 L334.0,914.6 L336.7,912.9 L335.5,909.9 L338.1,908.2 L337.7,905.3 L340.3,903.9 L339.6,900.8 L342.0,899.2 L341.6,896.3 L344.0,894.7 L343.7,891.9 L346.5,890.5 L346.2,887.6 L348.6,886.0 L348.5,883.2 L351.0,881.8 L350.5,878.6 L353.6,877.8 L353.2,874.5 L356.1,873.5 L356.3,870.8 L359.1,869.7 L359.1,866.7 L361.7,865.5 L361.5,862.5 L364.1,861.3 L364.2,858.4 L367.2,857.4 L367.3,854.7 L369.7,853.1 L369.3,850.2 L371.6,848.6 L371.5,845.9 L373.4,844.1 L373.3,841.3 L375.9,839.9 L375.4,836.9 L377.9,835.5 L377.8,832.7 L380.6,831.3 L379.7,828.2 L382.6,827.0 L382.8,824.3 L385.2,823.0 L385.1,820.1 L387.4,818.7 L387.7,816.1 L390.4,814.9 L389.9,811.8 L392.3,810.5 L392.8,808.0 L395.1,806.5 L394.6,803.7 L397.0,802.0 L396.1,799.2 L398.7,797.6 L397.8,794.7 L399.8,792.9 L399.1,790.2 L401.3,788.6 L401.9,785.7 L404.9,785.0 L405.9,782.4 L408.5,781.4 L409.6,778.8 L412.3,778.0 L412.8,775.0 L415.5,774.0 L415.8,771.4 L418.2,770.1 L417.9,767.1 L420.5,765.9 L420.5,763.2 L422.9,761.9 L423.4,759.1 L426.1,758.0 L426.6,755.2 L429.6,754.4 L429.4,751.0 L432.4,750.2 L432.5,747.1 L435.3,746.0 L435.7,743.1 L438.6,742.4 L438.8,739.4 L441.6,738.7 L442.4,736.1 L445.0,735.3 L445.6,732.6 L448.4,731.8 L448.9,729.0 L451.4,728.0 L452.1,725.4 L454.7,724.4 L454.7,721.5 L457.3,719.9 L456.6,716.7 L459.3,715.1 L459.3,712.3 L461.3,710.4 L461.6,707.7 L464.1,706.1 L464.1,703.2 L466.5,701.7 L466.4,698.6 L469.6,698.0 L469.5,694.8 L472.5,694.0 L472.6,691.0 L475.8,690.4 L475.8,687.3 L478.8,686.5 L478.9,683.4 L481.7,682.6 L482.1,679.7 L484.9,678.6 L484.5,675.4 L487.3,674.2 L487.6,671.4 L490.2,670.0 L489.8,666.8 L493.0,665.8 L492.9,662.7 L495.4,661.4 L495.4,658.3 L497.9,656.9 L498.1,654.1 L500.6,652.7 L500.6,649.7 L503.4,648.5 L503.5,645.5 L506.0,644.2 L506.3,641.4 L508.7,640.1 L509.1,637.4 L511.9,636.3 L511.9,633.3 L514.6,632.2 L514.9,629.4 L517.1,628.0 L517.3,625.0 L520.3,624.1 L520.4,621.0 L522.9,619.7 L523.2,616.8 L526.1,615.8 L526.2,612.7 L528.9,611.6 L529.1,608.6 L531.8,607.4 L532.3,604.7 L534.7,603.3 L535.3,600.6 L537.6,599.2 L538.5,596.6 L540.8,595.2 L541.7,592.6 L543.9,591.1 L544.4,588.3 L547.4,587.3 L547.6,584.3 L550.1,583.0 L550.7,580.2 L553.4,579.1 L553.6,576.0 L556.5,575.0 L557.0,572.2 L560.0,571.2 L559.7,567.9 L562.6,566.9 L562.8,564.1 L565.4,562.9 L565.4,560.0 L567.4,558.4 L567.8,555.8 L570.0,554.4 L569.8,551.4 L572.4,550.1 L572.8,547.5 L575.4,546.2 L575.4,543.3 L578.2,542.4 L578.5,539.5 L581.5,538.7 L581.4,535.4 L584.4,534.7 L584.5,531.6 L587.7,531.0 L587.8,527.9 L590.5,527.0 L590.8,524.0 L593.9,523.4 L594.0,520.3 L596.4,519.1 L597.0,516.5 L599.6,515.5 L599.7,512.5 L602.3,511.5 L603.1,509.0 L606.0,508.2 L606.1,505.2 L608.8,504.2 L609.1,501.4 L611.6,500.2 L611.8,497.4 L614.7,496.6 L615.4,493.7 L618.4,493.1 L619.0,490.0 L622.3,489.8 L623.2,487.0 L625.9,486.1 L627.1,483.6 L630.1,483.1 L630.8,480.0 L633.7,479.4 L634.2,476.2 L637.0,475.4 L637.6,472.5 L640.4,471.5 L641.3,468.9 L644.1,467.9 L644.4,464.8 L647.7,464.4 L648.3,461.5 L651.0,460.4 L651.4,457.4 L653.7,455.8 L653.7,452.8 L656.7,451.6 L656.8,448.6 L659.9,447.5 L660.0,444.5 L662.4,443.1 L663.0,440.1 L666.2,439.7 L666.7,436.5 L670.1,436.3 L670.9,433.4 L673.7,432.6 L674.4,429.5 L677.3,428.8 L678.2,426.0 L681.4,425.6 L682.1,422.7 L684.9,421.8 L685.0,418.5 L688.2,417.9 L688.5,414.8 L691.5,414.1 L691.9,411.0 L694.5,409.9 L695.4,407.4 L698.3,406.4 L698.4,403.2 L701.5,402.6 L702.5,399.9 L705.2,399.0 L706.2,396.3 L709.2,395.8 L710.3,393.2 L712.8,392.2 L714.1,389.7 L716.7,388.7 L717.5,385.9 L720.6,385.5 L720.9,382.3 L723.8,381.8 L724.9,379.4 L727.3,378.3 L728.2,375.9 L731.1,375.3 L731.6,372.3 L734.2,371.4 L735.1,368.9 L737.9,368.1 L738.2,365.1 L741.0,364.3 L741.6,361.5 L744.0,360.3 L744.4,357.4 L747.6,356.8 L748.1,354.0 L750.7,352.9 L751.0,350.0 L753.8,349.1 L754.3,346.3 L756.9,345.4 L758.1,342.8 L761.1,343.0 L762.2,340.1 L765.1,340.1 L766.6,337.8 L769.4,337.6 L770.7,335.0 L773.9,335.4 L774.9,332.5 L778.0,332.4 L779.3,329.7 L782.3,329.5 L783.7,326.9 L786.4,326.3 L787.8,323.8 L790.5,323.2 L791.9,320.6 L794.8,320.3 L795.9,317.4 L799.3,317.6 L800.3,314.6 L803.3,314.3 L804.7,311.8 L807.5,311.4 L809.1,309.1 L811.8,308.4 L813.1,305.7 L816.0,305.4 L817.3,302.7 L820.4,302.7 L821.5,299.6 L824.9,300.0 L826.1,297.2 L828.9,296.8 L830.3,294.2 L833.0,293.5 L834.3,290.9 L837.2,290.9 L838.9,289.0 L841.5,288.6 L842.7,285.8 L846.0,286.4 L847.3,283.8 L850.1,283.8 L851.6,281.4 L854.0,280.6 L854.9,277.7 L857.9,277.6 L858.8,274.8 L861.5,274.3 L862.9,272.1 L865.5,271.4 L866.3,268.5 L869.2,268.4 L870.5,266.0 L873.3,265.5 L873.6,262.4 L876.3,261.7 L877.3,259.3 L879.6,258.2 L880.6,255.8 L883.3,255.1 L883.8,252.2 L886.7,252.1 L888.3,249.9 L891.0,250.6 L892.7,247.9 L895.7,249.2 L897.4,246.9 L899.8,246.4 L900.6,243.7 L903.0,243.0" fill="none" stroke="#EA7630" stroke-width="8" stroke-linejoin="round" stroke-linecap="round" />
<path d="M321.2,946.5 L323.4,945.0 L323.4,942.0 L325.9,940.7 L326.5,938.2 L328.7,936.4 L328.3,933.7 L329.8,931.6 L329.6,928.9 L331.8,927.0 L331.5,924.3 L333.0,922.2 L333.0,919.6 L334.6,917.5 L334.0,914.7 L336.3,912.8 L335.8,910.0 L338.1,908.2 L337.9,905.5 L340.1,903.8 L339.8,900.9 L342.1,899.3 L342.2,896.6 L344.4,894.9 L343.9,891.9 L346.3,890.4 L346.5,887.7 L348.3,885.8 L348.1,883.0 L350.8,881.7 L350.7,878.7 L353.6,877.7 L353.4,874.7 L355.9,873.4 L356.3,870.7 L358.7,869.4 L359.0,866.6 L361.5,865.4 L361.7,862.6 L364.4,861.5 L364.9,858.8 L366.9,857.3 L367.1,854.6 L369.1,852.9 L369.4,850.3 L371.3,848.5 L371.5,845.9 L373.9,844.3 L373.8,841.6 L375.5,839.7 L376.0,837.2 L378.0,835.5 L378.1,832.8 L380.0,831.1 L380.0,828.3 L382.1,826.7 L382.6,824.2 L384.9,822.8 L384.9,820.0 L387.4,818.7 L387.9,816.2 L389.9,814.6 L390.0,811.9 L392.4,810.6 L392.9,808.0 L395.3,806.6 L395.0,803.8 L397.0,802.0 L396.5,799.4 L398.4,797.5 L398.1,794.9 L399.9,793.0 L399.3,790.3 L401.7,788.8 L402.2,786.0 L404.9,785.1 L406.1,782.6 L408.6,781.5 L409.4,778.6 L412.1,777.7 L413.2,775.3 L415.5,774.0 L415.8,771.4 L417.9,769.9 L417.9,767.1 L420.4,765.9 L420.7,763.2 L422.8,761.8 L423.5,759.2 L426.4,758.3 L426.7,755.3 L429.4,754.3 L429.6,751.2 L432.3,750.1 L433.0,747.4 L435.5,746.2 L436.0,743.4 L438.8,742.6 L439.5,740.0 L442.0,739.0 L442.3,736.0 L445.1,735.3 L445.4,732.4 L448.4,731.9 L448.6,728.8 L451.6,728.2 L452.0,725.4 L454.6,724.4 L454.9,721.5 L457.3,719.8 L457.2,717.0 L459.6,715.3 L459.5,712.4 L461.3,710.4 L461.4,707.6 L463.9,706.0 L463.8,703.0 L466.4,701.6 L466.5,698.6 L469.2,697.7 L469.8,695.0 L472.3,693.9 L472.9,691.2 L475.4,690.1 L475.8,687.2 L478.5,686.3 L478.9,683.4 L481.5,682.4 L482.4,680.0 L484.7,678.5 L484.8,675.6 L487.6,674.3 L487.7,671.4 L490.1,669.9 L489.9,666.9 L492.5,665.5 L493.2,663.0 L495.4,661.4 L495.7,658.6 L498.3,657.2 L498.5,654.3 L500.8,652.8 L501.3,650.1 L503.5,648.6 L503.9,645.8 L506.3,644.3 L506.3,641.4 L508.8,640.2 L509.1,637.4 L511.9,636.3 L511.9,633.4 L514.4,632.1 L515.0,629.5 L516.9,627.9 L517.7,625.3 L520.1,623.9 L520.8,621.3 L522.8,619.7 L523.7,617.2 L526.1,615.8 L526.7,613.1 L529.0,611.7 L529.7,609.0 L531.9,607.5 L532.5,604.9 L534.7,603.3 L535.8,601.0" fill="none" stroke="#EA7630" stroke-width="10" stroke-linejoin="round" stroke-linecap="round" />
<path d="M908.0,316.0 L909.1,314.3 L910.1,310.1 L911.2,309.7 L912.3,305.4 L913.4,304.6 L914.5,301.3 L915.5,299.9 L916.6,296.1 L918.5,295.9 L920.4,292.7 L922.4,293.3 L924.3,289.5 L926.2,290.1 L928.1,286.2 L929.7,286.6 L931.4,283.2 L933.0,282.3 L934.6,279.0 L936.2,278.5 L937.9,275.2 L939.5,275.1 L941.4,272.1 L943.4,271.6 L945.3,268.8 L947.2,269.0 L949.6,268.2 L952.0,270.3 L954.3,269.6 L956.7,271.9 L959.1,269.5 L961.5,270.4 L963.9,267.8 L966.3,269.4 L969.0,267.5 L971.6,267.9 L974.3,265.9 L976.9,266.9 L979.6,265.4 L982.3,266.8 L984.9,264.8 L987.6,267.0 L990.2,265.2 L992.9,266.7 L995.5,264.8 L998.2,266.9 L1000.6,264.3 L1003.0,265.6 L1005.4,263.9 L1007.8,264.6 L1010.1,262.4 L1012.5,264.0 L1014.9,261.9 L1017.3,262.7 L1019.7,260.6 L1022.0,260.8 L1024.4,258.2 L1026.8,259.3 L1029.2,256.2 L1031.5,257.0 L1033.9,254.8 L1036.3,255.4 L1038.7,252.0 L1041.1,252.3 L1043.5,249.6 L1045.9,249.4 L1048.3,246.2 L1050.7,246.9 L1053.0,243.9 L1055.4,243.5 L1057.8,242.4 L1060.2,243.5 L1062.6,242.1 L1065.0,243.2 L1067.3,241.5 L1069.7,243.3 L1072.1,241.5 L1074.5,242.9 L1076.9,240.8 L1079.3,241.6 L1081.7,238.9 L1084.0,239.6 L1086.4,237.2 L1088.8,238.2 L1091.2,236.4 L1093.6,237.0 L1096.0,234.5 L1098.4,235.4 L1100.8,232.9 L1103.2,233.7 L1105.6,230.8 L1108.0,231.0" fill="none" stroke="#EA7630" stroke-width="7.5" stroke-linejoin="round" stroke-linecap="round" />
<path d="M1180.0,636.0 L1182.0,635.2 L1184.0,632.4 L1186.0,633.5 L1188.0,630.5 L1190.0,630.6 L1192.5,628.8 L1195.0,629.3 L1197.5,627.3 L1200.0,628.0 L1202.5,625.1 L1205.0,626.2 L1207.5,623.7 L1210.0,625.2 L1212.5,622.4 L1215.0,623.5 L1217.5,621.9 L1220.0,622.7 L1222.5,620.5 L1225.0,621.8 L1227.5,619.8 L1230.0,620.8 L1232.5,618.4 L1235.0,620.2 L1237.5,617.7 L1240.0,618.6 L1242.5,616.7 L1245.0,618.2 L1247.5,616.1 L1250.0,617.4 L1252.5,615.4 L1255.0,615.9 L1257.5,614.5 L1260.0,615.8 L1262.5,613.1 L1265.0,614.4 L1267.5,612.5 L1270.0,613.4 L1272.5,612.2 L1275.0,613.0 L1277.5,610.9 L1280.0,612.1 L1282.5,610.8 L1285.0,612.1 L1287.5,609.7 L1290.0,610.8 L1292.5,608.9 L1295.0,610.8 L1297.5,608.7 L1300.0,609.5 L1302.5,607.5 L1305.0,609.4 L1307.5,607.5 L1310.0,608.9 L1312.5,606.4 L1315.0,607.5 L1317.5,606.1 L1320.0,607.3 L1322.5,605.6 L1325.0,606.5 L1327.5,604.5 L1330.0,606.0 L1332.5,604.4 L1335.0,605.4 L1337.5,603.4 L1340.0,604.8 L1342.5,603.0 L1345.0,604.4 L1347.5,602.1 L1350.0,603.6 L1352.5,602.2 L1355.0,602.9 L1357.5,601.6 L1360.0,602.8 L1362.5,600.8 L1365.0,602.0 L1367.5,600.8 L1370.0,601.9 L1372.5,600.2 L1375.0,601.1 L1377.5,599.8 L1380.0,600.8 L1382.5,599.3 L1384.9,600.7 L1387.4,598.4 L1389.9,600.2 L1392.3,598.4 L1394.8,599.4 L1397.3,597.6 L1399.7,598.9 L1402.2,597.3 L1404.7,599.0 L1407.1,597.1 L1409.6,598.5 L1412.1,596.5 L1414.5,597.7 L1417.0,597.0" fill="none" stroke="#EA7630" stroke-width="7" stroke-linejoin="round" stroke-linecap="round" />
<path d="M236.9,1358.6 L238.6,1352.5 L238.6,1346.1 L240.8,1340.0 L240.5,1333.6 L242.7,1327.5 L242.8,1321.1 L244.6,1315.6 L244.6,1309.8 L246.8,1304.4 L246.6,1298.5 L248.7,1293.1 L248.6,1287.2 L250.4,1281.7 L250.4,1275.9 L253.1,1270.1 L253.4,1263.8 L256.0,1258.0 L256.5,1251.7 L259.3,1246.0 L259.9,1239.7 L262.6,1234.0 L262.3,1227.6 L264.8,1221.8 L265.0,1215.6 L267.1,1209.8 L267.0,1203.5 L269.4,1197.7 L269.0,1191.3 L272.0,1185.7 L271.8,1179.8 L273.8,1174.4 L274.1,1168.7 L276.4,1163.4 L276.3,1157.6 L278.6,1152.2 L276.6,1145.9 L282.8,1141.1 L281.8,1134.1 L286.8,1128.9 L283.4,1122.4 L288.7,1117.3 L286.4,1111.1 L290.3,1105.9 L287.2,1099.5 L291.9,1094.4 L289.4,1088.2 L293.8,1083.0 L291.7,1076.1 L295.6,1070.2 L293.9,1063.3 L298.2,1057.5 L295.8,1050.5 L300.8,1044.8 L298.7,1037.9 L303.4,1032.1 L300.9,1025.1 L305.7,1019.4 L302.8,1012.3 L307.9,1006.7 L305.7,999.7 L310.0,993.9 L307.7,986.8 L313.3,981.4 L311.4,974.1 L316.0,968.5 L314.2,961.2 L319.5,957.2 L317.8,951.0 L323.1,947.5 L321.5,940.6 L329.7,939.8 L326.4,931.5 L333.3,927.0 L329.0,918.7 L338.2,915.0 L332.4,906.0 L342.1,903.6 L340.4,896.3 L347.2,893.0 L343.4,884.6 L352.5,882.6 L348.9,873.4 L359.2,873.3 L357.3,864.9 L369.7,866.3 L363.9,855.5 L372.3,853.5 L367.9,845.0 L377.3,843.3 L373.7,835.2 L384.6,834.3 L376.7,823.6 L388.9,823.9 L382.5,812.8 L394.6,813.3 L389.1,803.6 L401.4,801.9 L393.1,792.2 L405.9,791.4 L401.1,780.0 L412.2,782.7 L411.2,773.7 L421.2,773.9 L415.6,763.8 L425.8,763.9 L423.1,754.9 L434.0,756.3 L428.9,745.0 L439.2,746.1 L437.4,735.7 L447.4,735.8 L446.1,725.7 L457.6,726.4 L452.2,715.9 L464.3,714.8 L457.6,704.3 L470.3,704.1 L464.7,693.4 L477.0,696.5 L473.5,686.6 L482.4,686.9 L478.5,677.2 L491.0,678.2 L484.5,666.8 L495.6,666.6 L491.2,656.5 L501.7,656.0 L496.7,645.6 L509.6,646.5 L505.6,636.0 L517.4,636.1 L512.3,624.6 L523.8,624.7 L521.2,614.7 L532.9,615.1 L527.7,603.3 L541.7,605.3 L535.1,593.1 L548.3,595.8 L541.5,583.3 L553.9,585.4 L545.9,572.0 L561.7,576.7 L556.6,565.8 L566.7,565.4 L561.9,555.6 L572.9,555.5 L568.3,545.9 L579.0,545.9 L575.1,536.0 L586.8,538.6 L582.8,528.3 L592.5,529.2 L590.6,520.7 L601.2,521.9 L597.0,511.4 L608.3,513.1 L602.7,501.5 L613.9,503.1 L610.6,492.8 L624.0,498.6 L617.8,483.3 L629.2,487.5 L626.7,476.3 L637.3,479.3 L636.4,470.6 L647.9,473.0 L641.8,460.0 L652.8,461.7 L649.6,451.0 L663.7,452.2 L658.2,439.6 L670.3,442.3 L668.4,430.6 L680.5,434.2 L676.4,420.7 L688.0,423.8 L683.9,412.9 L696.0,416.0 L692.3,405.3 L704.6,409.2 L699.7,394.8 L711.8,398.7 L709.3,386.3 L723.7,392.4 L718.3,377.2 L731.3,380.7 L729.4,369.2 L741.3,371.3 L737.1,359.7 L747.5,360.6 L744.0,350.0 L755.0,351.3 L753.6,341.5 L764.3,347.2 L763.0,334.2 L773.5,340.9 L772.8,329.3 L783.4,334.4 L779.5,318.8 L793.1,328.0 L791.1,314.9 L804.2,323.5 L800.8,308.5 L811.8,314.2 L810.1,301.6 L822.0,308.4 L820.5,296.0 L831.2,301.2 L830.0,289.0 L840.8,295.8 L838.7,281.4 L849.4,288.5 L848.0,276.3 L859.5,281.5 L858.1,270.1 L869.5,274.5 L867.4,262.6 L877.1,265.0 L874.2,254.5 L886.1,258.8 L882.9,245.8 L893.8,255.1 L895.3,243.2 L903.0,243.0 L906.1,239.7 L908.0,316.0 L910.9,320.4 L913.7,295.3 L916.6,304.1 L922.4,285.2 L928.1,296.9 L931.9,272.1 L935.7,289.4 L939.5,268.1 L943.4,282.0 L947.2,260.2 L952.0,280.3 L956.7,260.9 L961.5,278.7 L966.3,261.4 L973.0,278.7 L979.6,256.6 L985.8,272.3 L992.0,259.7 L998.2,273.3 L1004.6,259.4 L1010.9,267.8 L1017.3,251.3 L1023.6,268.6 L1030.0,252.2 L1036.3,265.2 L1041.1,241.1 L1045.9,254.9 L1050.7,237.5 L1055.4,250.6 L1061.8,236.6 L1068.1,247.1 L1074.5,237.3 L1080.9,247.1 L1087.2,229.5 L1093.6,243.0 L1098.4,225.5 L1103.2,239.1 L1108.0,231.0 L1111.7,229.7 L1122.2,292.7 L1131.8,349.9 L1147.0,440.0 L1176.6,640.5 L1174.9,648.6 L1162.1,655.4 L1163.9,669.0 L1167.3,662.2 L1179.2,663.9 L1176.6,650.3 L1179.2,638.4 L1189.4,624.7 L1191.1,641.8 L1195.0,628.0 L1200.0,635.0 L1208.1,624.7 L1212.0,630.0 L1220.0,617.9 L1226.0,627.0 L1238.8,612.8 L1238.8,628.1 L1250.7,614.5 L1266.0,609.4 L1266.0,619.6 L1283.1,604.3 L1284.8,617.9 L1303.5,604.3 L1303.5,617.9 L1318.9,600.9 L1320.6,617.9 L1332.5,595.8 L1334.2,612.8 L1351.2,590.7 L1353.0,609.4 L1368.3,587.3 L1370.0,609.4 L1378.5,590.7 L1383.6,609.4 L1393.8,592.4 L1399.0,609.4 L1416.0,583.9 L1419.4,609.4" fill="none" stroke="#EA7630" stroke-width="4.8" stroke-linejoin="round" stroke-linecap="round" />
<path d="M398.0,800.0 L396.0,777.0 L403.0,782.0 L411.0,779.0 L410.0,791.0 L402.0,793.0" fill="none" stroke="#EA7630" stroke-width="4" stroke-linejoin="round" stroke-linecap="round" />
<line x1="250.2" y1="1233.8" x2="264.2" y2="1233.8" stroke="#EA7630" stroke-width="4"/>
<line x1="234.6" y1="1321.2" x2="245.5" y2="1321.2" stroke="#EA7630" stroke-width="4"/>
<line x1="294.5" y1="1024" x2="301" y2="1024" stroke="#EA7630" stroke-width="4"/>
<line x1="309.8" y1="953" x2="317.4" y2="953" stroke="#EA7630" stroke-width="4"/>
<rect x="648" y="0" width="1078" height="150" fill="#fff"/>
<rect x="540" y="798" width="1147" height="150" fill="#fff"/>
<rect x="255" y="560" width="254" height="57" fill="#fff"/>
<rect x="330" y="1233" width="470" height="97" fill="#fff"/>
<rect x="1040" y="1225" width="510" height="96" fill="#fff"/>
<rect x="1220" y="168" width="272" height="66" fill="#fff"/>
<rect x="1294" y="258" width="272" height="66" fill="#fff"/>
<rect x="705" y="508" width="440" height="103" fill="#fff"/>
<rect x="276" y="45" width="250" height="280" fill="#fff"/>
<g stroke="#404040" stroke-width="1.8" fill="none">
<polyline points="1037,167.5 1195,201.3 1218.6,201.3"/>
<polyline points="1112.5,231.5 1274.5,291.7 1293,291.7"/>
<polyline points="382.6,618.1 348.2,867.2"/>
<polyline points="367.3,859.5 549.5,733.6 565.4,733.6"/>
</g>
<g stroke="#000" stroke-width="3.2" fill="none" stroke-linecap="butt" stroke-linejoin="miter">
<line x1="688.6" y1="349.4" x2="734.4" y2="167.2"/>
<polyline points="711.5,192 734.4,167.2 742,199.6"/>
<line x1="970.5" y1="528.8" x2="1038.2" y2="323.2"/>
<polyline points="1014.4,346.1 1038.2,323.2 1044.9,356.6"/>
<line x1="979.1" y1="535.9" x2="1145.2" y2="462"/>
<polyline points="1111.8,459.2 1145.2,462 1125.1,489.7"/>
<line x1="1238" y1="637.5" x2="1161.3" y2="784.9"/>
<polyline points="1160.4,752.5 1161.3,784.9 1188.6,767"/>
<line x1="1517.9" y1="1142.6" x2="1437" y2="1222"/>
<polyline points="1445.5,1192.3 1437,1222 1468.2,1213.6"/>
</g>
<g stroke-width="6.2" stroke-linecap="round">
<line x1="309.5" y1="95.8" x2="390.6" y2="95.8" stroke="#000"/>
<line x1="309.5" y1="187.3" x2="390.6" y2="187.3" stroke="#5094D4"/>
<line x1="309.5" y1="277.6" x2="390.6" y2="277.6" stroke="#EA7630"/>
</g>
<g font-family="'Liberation Serif', 'Times New Roman', serif" fill="#000">
<text x="396.5" y="115" font-size="60" letter-spacing="-1">B1</text>
<text x="396.5" y="205.6" font-size="60" letter-spacing="-1">B9</text>
<text x="396.5" y="294.7" font-size="60" letter-spacing="-1">B10</text>
<text x="192.5" y="1374.4" font-size="53" text-anchor="end" letter-spacing="-2">0</text>
<text x="192.5" y="1151.7" font-size="53" text-anchor="end" letter-spacing="-2">30</text>
<text x="192.5" y="928.9" font-size="53" text-anchor="end" letter-spacing="-2">60</text>
<text x="192.5" y="706.2" font-size="53" text-anchor="end" letter-spacing="-2">90</text>
<text x="192.5" y="483.5" font-size="53" text-anchor="end" letter-spacing="-2">120</text>
<text x="192.5" y="260.7" font-size="53" text-anchor="end" letter-spacing="-2">150</text>
<text x="192.5" y="38.0" font-size="53" text-anchor="end" letter-spacing="-2">180</text>
<text x="236.7" y="1433.5" font-size="53" text-anchor="middle">0</text>
<text x="536.7" y="1433.5" font-size="53" text-anchor="middle">7</text>
<text x="836.7" y="1433.5" font-size="53" text-anchor="middle">14</text>
<text x="1136.6" y="1433.5" font-size="53" text-anchor="middle">21</text>
<text x="1436.6" y="1433.5" font-size="53" text-anchor="middle">28</text>
<text x="1736.6" y="1433.5" font-size="53" text-anchor="middle">35</text>
<text x="560.3" y="1547.5" font-size="104" textLength="806" lengthAdjust="spacing">Displacement (mm)</text>
<text transform="translate(74,862.1) rotate(-90)" font-size="104" textLength="452.5" lengthAdjust="spacing">Force (kN)</text>
<text x="655.4" y="58.5" font-size="54" textLength="1051" lengthAdjust="spacing">Hybrid CFRP (two layers sheets &amp; U-shaped wrap)</text>
<text x="942.5" y="117.3" font-size="54" textLength="490" lengthAdjust="spacing">+ Post-tentioning (60%)</text>
<text x="579.9" y="862" font-size="54" textLength="1051" lengthAdjust="spacing">Hybrid CFRP (two layers sheets &amp; U-shaped wrap)</text>
<text x="868.6" y="918.7" font-size="54" textLength="487" lengthAdjust="spacing">+ Post-tentioning (80%)</text>
</g>
<g font-family="'Liberation Serif', 'Times New Roman', serif" font-style="italic" fill="#000">
<text x="1229.2" y="216.5" font-size="44.5">P</text>
<text x="1255.8" y="226.0" font-size="28">u</text>
<text x="1270.2" y="216.5" font-size="44.5">=</text>
<text x="1300.8" y="216.5" font-size="44.5">160.32</text>
<text x="1426.8" y="216.5" font-size="44.5">kN</text>
<text x="1304.8" y="306.3" font-size="44.5">P</text>
<text x="1330.9" y="315.8" font-size="28">u</text>
<text x="1344.9" y="306.3" font-size="44.5">=</text>
<text x="1375.8" y="306.3" font-size="44.5">152.22</text>
<text x="1503.2" y="306.3" font-size="44.5">kN</text>
<text x="267.6" y="601.9" font-size="44.5">P</text>
<text x="293.5" y="611.4" font-size="28">cr</text>
<text x="314.8" y="601.9" font-size="44.5">=</text>
<text x="346.1" y="601.9" font-size="44.5">63.00</text>
<text x="451.4" y="601.9" font-size="44.5">kN</text>
<text x="580.9" y="747.5" font-size="44.5">P</text>
<text x="606.7" y="757.0" font-size="28">cr</text>
<text x="628.5" y="747.5" font-size="44.5">=</text>
<text x="658.1" y="747.5" font-size="44.5">65.80</text>
<text x="764.0" y="747.5" font-size="44.5">kN</text>
<text x="1059.7" y="1284.6" font-size="46" textLength="213" lengthAdjust="spacing">Reference</text>
<text transform="translate(1287.5,1284.6) scale(0.86,1)" font-size="46" textLength="133" lengthAdjust="spacing">HPDC</text>
<text x="1437.6" y="1284.6" font-size="46" textLength="100" lengthAdjust="spacing">beam</text>
</g>
<g font-family="'Liberation Serif', 'Times New Roman', serif" font-style="italic" font-weight="bold" fill="#000">
<text x="904.5" y="213.9" font-size="43">D</text>
<text x="871.4" y="360.8" font-size="43">D</text>
<text x="717" y="577.6" font-size="46" textLength="357" lengthAdjust="spacing">second de-bonding</text>
<text x="341.5" y="1288.6" font-size="41" textLength="446" lengthAdjust="spacing">D = first de-bonding load</text>
</g></svg>
</body></html>
